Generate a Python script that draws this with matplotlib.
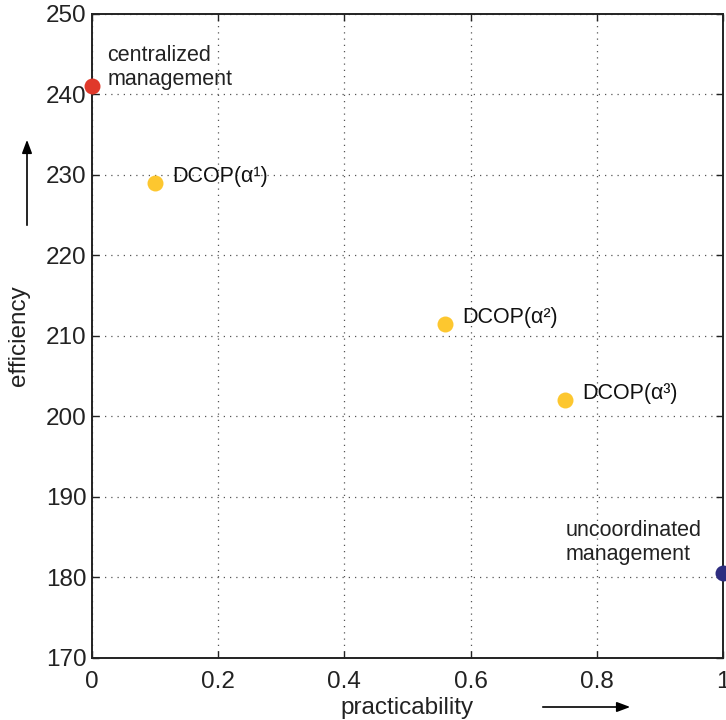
import matplotlib.pyplot as plt

plt.rcParams['font.family'] = ['Liberation Sans', 'DejaVu Sans']

# practicability vs. efficiency of the management schemes
central_x, central_y = [0.0], [241.0]
dcop_x = [0.10, 0.56, 0.75]
dcop_y = [229.0, 211.5, 202.0]
uncoord_x, uncoord_y = [1.0], [180.5]
dcop_labels = ['DCOP(α¹)', 'DCOP(α²)', 'DCOP(α³)']

xticks = [0, 0.2, 0.4, 0.6, 0.8, 1]
xticklabels = ['0', '0.2', '0.4', '0.6', '0.8', '1']
yticks = [170, 180, 190, 200, 210, 220, 230, 240, 250]

fig = plt.figure(figsize=(7.26, 7.20), dpi=100)
ax = fig.add_axes([92 / 726, 62 / 720, 631 / 726, 644 / 720])

ms = 11.5
ax.plot(central_x, central_y, 'o', color='#e0392a', ms=ms, mec='none', clip_on=False, zorder=5)
ax.plot(dcop_x, dcop_y, 'o', color='#fdc72f', ms=ms, mec='none', clip_on=False, zorder=5)
ax.plot(uncoord_x, uncoord_y, 'o', color='#2e2d80', ms=ms, mec='none', clip_on=False, zorder=5)

ax.text(0.024, 243.4, 'centralized\nmanagement', fontsize=15.5, color='#222222',
        va='center', ha='left', linespacing=1.2)
for x, y, lab in zip(dcop_x, dcop_y, dcop_labels):
    ax.text(x + 0.027, y + 0.8, lab, fontsize=15.5, color='#111111', va='center', ha='left')
ax.text(0.75, 184.3, 'uncoordinated\nmanagement', fontsize=15.5, color='#222222',
        va='center', ha='left', linespacing=1.2)

ax.set_xlim(0, 1)
ax.set_ylim(170, 250)
ax.set_xticks(xticks)
ax.set_xticklabels(xticklabels)
ax.set_yticks(yticks)
ax.tick_params(direction='in', length=5, width=1, labelsize=17.5, colors='#222222',
               top=True, right=True)
ax.tick_params(axis='x', pad=9)
ax.tick_params(axis='y', pad=4)
ax.grid(True, linestyle=(0, (1, 4)), color='#555555', linewidth=0.9)
for s in ax.spines.values():
    s.set_linewidth(1.4)
    s.set_color('#222222')

ax.set_xlabel('practicability', fontsize=17.5, color='#222222', labelpad=3)
ax.set_ylabel('efficiency', fontsize=17.5, color='#222222', labelpad=11)

# direction arrows beside the axis labels
fig.patches.append(plt.matplotlib.patches.FancyArrowPatch(
    (27 / 726, 1 - 228 / 720), (27 / 726, 1 - 137 / 720), transform=fig.transFigure,
    arrowstyle='-|>,head_length=8,head_width=3', color='black', lw=1.2, mutation_scale=1))
fig.patches.append(plt.matplotlib.patches.FancyArrowPatch(
    (540 / 726, 1 - 707 / 720), (633 / 726, 1 - 707 / 720), transform=fig.transFigure,
    arrowstyle='-|>,head_length=8,head_width=3', color='black', lw=1.2, mutation_scale=1))

plt.savefig('out.png', dpi=100)
